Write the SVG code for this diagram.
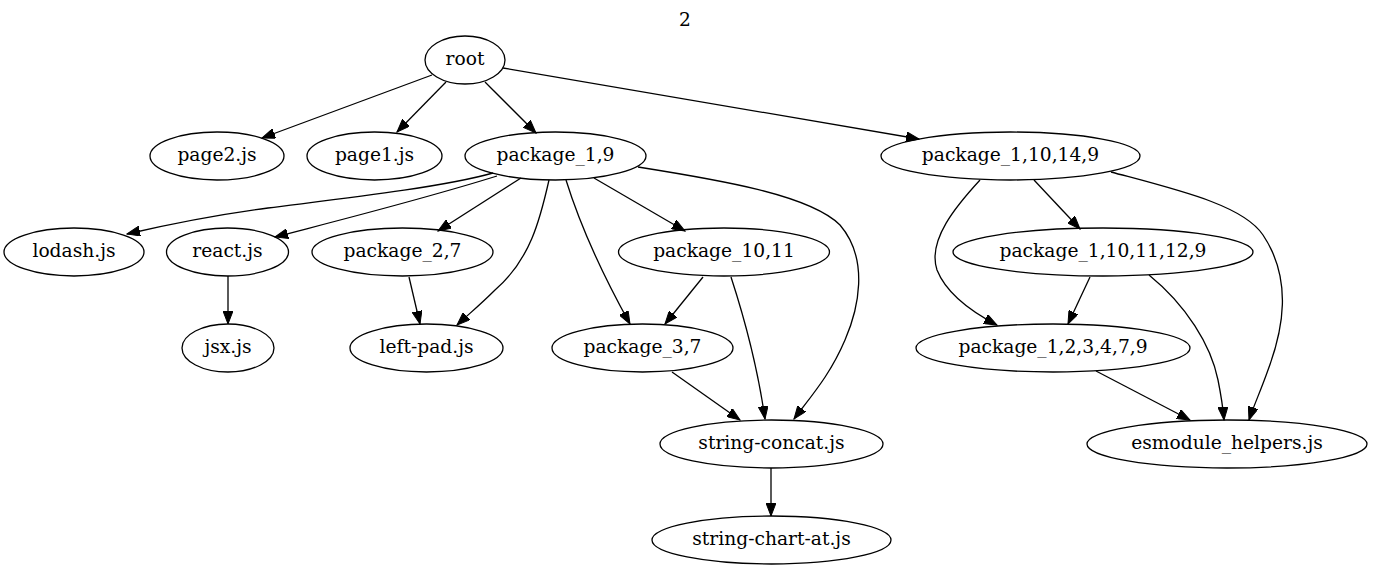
<svg xmlns="http://www.w3.org/2000/svg" width="1373" height="569" viewBox="0 0 1373 569">
<style>
.n ellipse{fill:none;stroke:#000;stroke-width:1.3}
text{font-family:"DejaVu Serif","Liberation Serif",serif;font-size:18.67px;text-anchor:middle;fill:#000}
.e path{fill:none;stroke:#000;stroke-width:1.3;marker-end:url(#a)}
</style>
<defs>
<marker id="a" markerUnits="userSpaceOnUse" markerWidth="14" markerHeight="10" refX="13" refY="5" orient="auto">
<path d="M0,0 L13,5 L0,10 Z" fill="#000" stroke="#000" stroke-width="1"/>
</marker>
</defs>
<rect width="1373" height="569" fill="#fff"/>
<text x="685" y="26">2</text>
<g class="e" id="edges">
<path d="M432,75 L262,138"/>
<path d="M446,82 L397,132"/>
<path d="M485,82 L536,133"/>
<path d="M503,68 L919,139"/>
<path d="M493,173 C440,188 330,200 268,208 C215,215 170,224 127,234"/>
<path d="M497,176 C420,200 340,220 275,237"/>
<path d="M521,178 L438,231"/>
<path d="M549,180 C540,220 530,260 495,290 C480,305 470,313 457,325"/>
<path d="M566,180 C580,225 600,270 630,324"/>
<path d="M594,178 L685,231"/>
<path d="M638,167 C720,180 810,195 840,225 C870,260 858,310 845,340 C830,375 812,395 794,419"/>
<path d="M703,277 L665,324"/>
<path d="M731,277 C745,320 758,370 765,419"/>
<path d="M672,372 L740,420"/>
<path d="M771,468 L771,516"/>
<path d="M228,276 L228,324"/>
<path d="M409,277 L420,324"/>
<path d="M1034,180 L1080,229"/>
<path d="M980,180 C957,205 927,240 937,270 C947,295 972,312 997,325"/>
<path d="M1111,172 C1178,190 1243,205 1263,235 C1293,280 1283,330 1268,370 C1261,390 1254,405 1249,420"/>
<path d="M1090,277 L1068,324"/>
<path d="M1149,275 C1186,305 1211,345 1218,380 C1221,395 1223,408 1224,420"/>
<path d="M1096,371 L1190,420"/>
</g>
<g class="n" id="root"><ellipse cx="465" cy="60" rx="40" ry="24"/><text x="465" y="65">root</text></g>
<g class="n" id="page2"><ellipse cx="217" cy="156" rx="67" ry="24"/><text x="217" y="161">page2.js</text></g>
<g class="n" id="page1"><ellipse cx="374.5" cy="156" rx="67.5" ry="24"/><text x="374.5" y="161">page1.js</text></g>
<g class="n" id="p1_9"><ellipse cx="555.5" cy="156" rx="90.5" ry="24"/><text x="555.5" y="161">package_1,9</text></g>
<g class="n" id="p1_10_14_9"><ellipse cx="1010.5" cy="156" rx="129.5" ry="24"/><text x="1010.5" y="161">package_1,10,14,9</text></g>
<g class="n" id="lodash"><ellipse cx="74" cy="252" rx="70" ry="24"/><text x="74" y="257">lodash.js</text></g>
<g class="n" id="react"><ellipse cx="227.5" cy="252" rx="61" ry="24"/><text x="227.5" y="257">react.js</text></g>
<g class="n" id="p2_7"><ellipse cx="402.5" cy="252" rx="90.5" ry="24"/><text x="402.5" y="257">package_2,7</text></g>
<g class="n" id="p10_11"><ellipse cx="724" cy="252" rx="105.5" ry="24"/><text x="724" y="257">package_10,11</text></g>
<g class="n" id="p1_10_11_12_9"><ellipse cx="1103" cy="252" rx="150" ry="24"/><text x="1103" y="257">package_1,10,11,12,9</text></g>
<g class="n" id="jsx"><ellipse cx="228" cy="348" rx="46" ry="24"/><text x="228" y="353">jsx.js</text></g>
<g class="n" id="leftpad"><ellipse cx="426.5" cy="348" rx="76.5" ry="24"/><text x="426.5" y="353">left-pad.js</text></g>
<g class="n" id="p3_7"><ellipse cx="642.5" cy="348" rx="90.5" ry="24"/><text x="642.5" y="353">package_3,7</text></g>
<g class="n" id="p1_2_3_4_7_9"><ellipse cx="1053" cy="348" rx="137" ry="24"/><text x="1053" y="353">package_1,2,3,4,7,9</text></g>
<g class="n" id="strconcat"><ellipse cx="771.5" cy="444" rx="111.5" ry="24"/><text x="771.5" y="449">string-concat.js</text></g>
<g class="n" id="esmodule"><ellipse cx="1227" cy="444" rx="140" ry="24"/><text x="1227" y="449">esmodule_helpers.js</text></g>
<g class="n" id="strchartat"><ellipse cx="771.5" cy="540" rx="119.5" ry="24"/><text x="771.5" y="545">string-chart-at.js</text></g>
</svg>
